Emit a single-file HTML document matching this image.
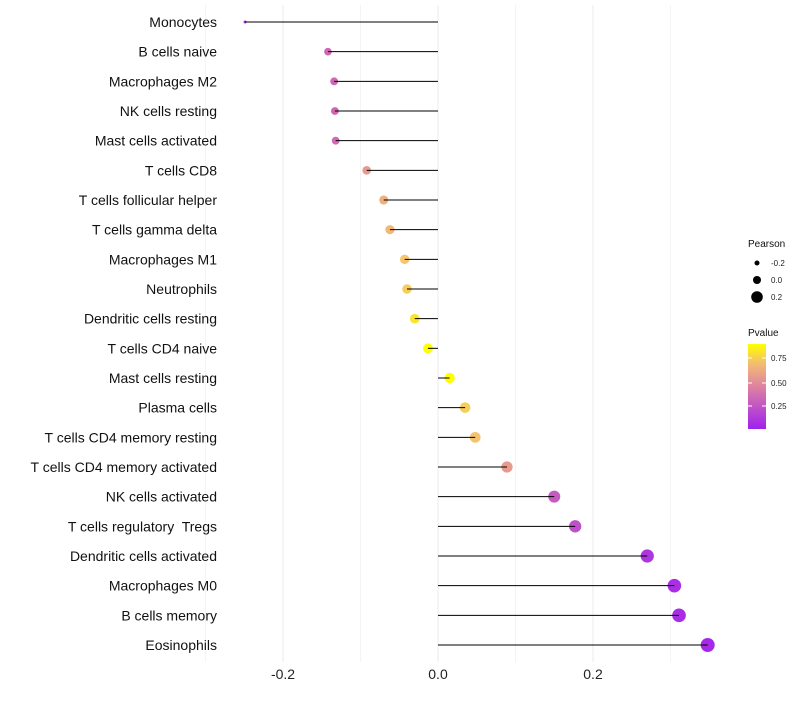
<!DOCTYPE html>
<html><head><meta charset="utf-8"><style>
body{margin:0;background:#fff;font-family:"Liberation Sans",sans-serif}
text{white-space:pre}
</style></head><body>
<svg id="c" width="800" height="700" xmlns="http://www.w3.org/2000/svg"></svg>
<script>
const categories=["Monocytes","B cells naive","Macrophages M2","NK cells resting","Mast cells activated","T cells CD8","T cells follicular helper","T cells gamma delta","Macrophages M1","Neutrophils","Dendritic cells resting","T cells CD4 naive","Mast cells resting","Plasma cells","T cells CD4 memory resting","T cells CD4 memory activated","NK cells activated","T cells regulatory  Tregs","Dendritic cells activated","Macrophages M0","B cells memory","Eosinophils"];
const pearson=[-0.249,-0.142,-0.134,-0.133,-0.132,-0.092,-0.070,-0.062,-0.043,-0.040,-0.030,-0.013,0.015,0.035,0.048,0.089,0.150,0.177,0.270,0.305,0.311,0.348];
const pvalue=[0.05,0.32,0.33,0.33,0.34,0.55,0.64,0.68,0.73,0.75,0.82,0.90,0.92,0.75,0.72,0.55,0.27,0.22,0.10,0.07,0.06,0.04];
const xTicks=[-0.2,0.0,0.2];
const xTickLabels=["-0.2","0.0","0.2"];
const ns="http://www.w3.org/2000/svg";
const svg=document.getElementById('c');
function X(v){return 438+v*775;}
function Y(i){return 22+i*(623/21);}
function mk(t,a,p){const e=document.createElementNS(ns,t);for(const k in a)e.setAttribute(k,a[k]);(p||svg).appendChild(e);return e;}
function col(p){const t=Math.max(0,Math.min(1,p/0.9));
 const s=[[0,[160,32,240]],[0.5,[222,130,160]],[0.8,[245,195,110]],[1,[255,255,0]]];
 for(let i=1;i<s.length;i++){if(t<=s[i][0]){const a=s[i-1],b=s[i];const f=(t-a[0])/(b[0]-a[0]);return 'rgb('+a[1].map((c,j)=>Math.round(c+(b[1][j]-c)*f)).join(',')+')';}}
 return 'rgb(255,255,0)';}
const pmin=Math.min(...pearson),pmax=Math.max(...pearson);
function R(v){return 1.5+Math.sqrt(Math.max(0,(v-pmin)/(pmax-pmin)))*5.5;}
[-0.3,-0.1,0.1,0.3].forEach(v=>{const g=mk('line',{x1:X(v),x2:X(v),y1:5,y2:662,stroke:'#f4f4f4','stroke-width':1});});
xTicks.forEach((v,i)=>{const g=mk('line',{x1:X(v),x2:X(v),y1:5,y2:662,stroke:'#ebebeb','stroke-width':1});
 const t=mk('text',{x:X(v),y:679,'text-anchor':'middle','font-size':14,fill:'#222'});t.textContent=xTickLabels[i];});
categories.forEach((c,i)=>{const y=Y(i);
 const t=mk('text',{x:217,y:y+5,'text-anchor':'end','font-size':14,fill:'#111'});t.textContent=c;
 const d=mk('circle',{cx:X(pearson[i]),cy:y,r:R(pearson[i]),fill:col(pvalue[i])});
 const l=mk('line',{x1:X(0),x2:X(pearson[i]),y1:y,y2:y,stroke:'#000','stroke-width':1});
});
const lg=mk('g',{});
let t=mk('text',{x:748,y:247,'font-size':10,fill:'#111'},lg);t.textContent='Pearson';
[[-0.2,263,2.5],[0.0,280,4],[0.2,297,5.8]].forEach(([v,y,r])=>{mk('circle',{cx:757,cy:y,r:r,fill:'#000'},lg);const s=mk('text',{x:771,y:y+3,'font-size':8,fill:'#222'},lg);s.textContent=v.toFixed(1);});
t=mk('text',{x:748,y:336,'font-size':10,fill:'#111'},lg);t.textContent='Pvalue';
const df=mk('defs',{});const gr=mk('linearGradient',{id:'pg',x1:0,y1:1,x2:0,y2:0},df);
[0,0.25,0.5,0.75,1].forEach(o=>mk('stop',{offset:o,'stop-color':col(o*0.9)},gr));
mk('rect',{x:748,y:344,width:18,height:85,fill:'url(#pg)'},lg);
[[0.75,358],[0.50,383],[0.25,406]].forEach(([v,y])=>{mk('line',{x1:748,x2:752,y1:y,y2:y,stroke:'#fff'},lg);mk('line',{x1:762,x2:766,y1:y,y2:y,stroke:'#fff'},lg);const s=mk('text',{x:771,y:y+3,'font-size':8,fill:'#222'},lg);s.textContent=v.toFixed(2);});
</script>
</body></html>
